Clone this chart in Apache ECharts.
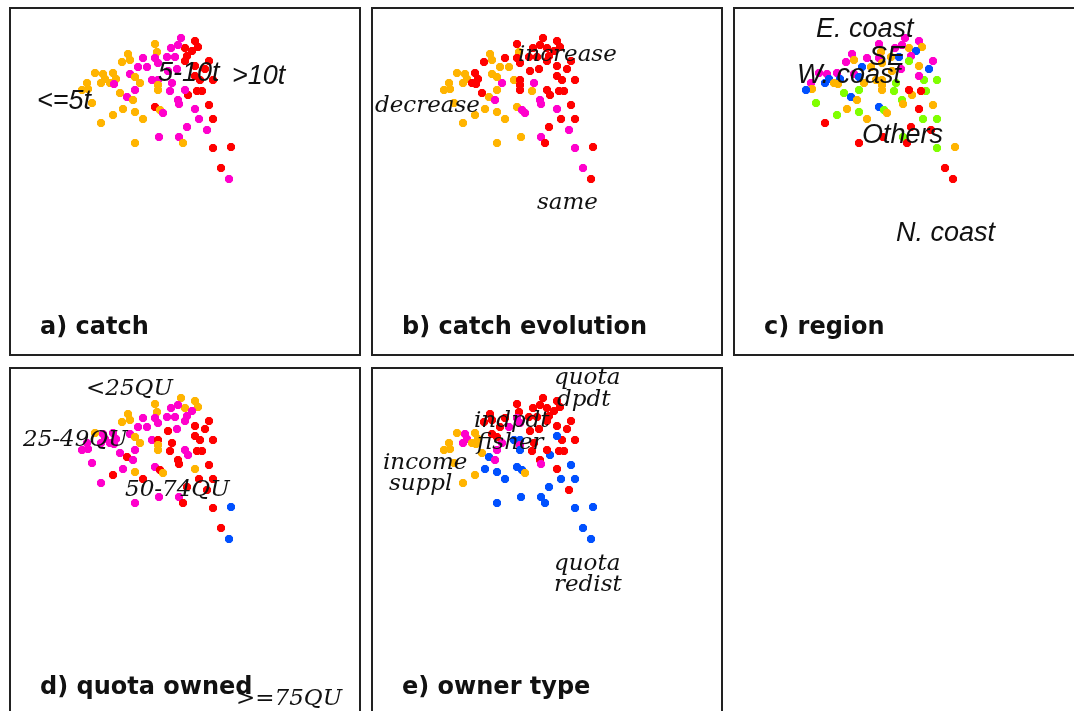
<!DOCTYPE html>
<html>
<head>
<meta charset="utf-8">
<title>Catch, region, quota and owner type maps</title>
<script src="https://cdn.jsdelivr.net/npm/echarts@6/dist/echarts.min.js"></script>
<style>
  html, body { margin: 0; padding: 0; background: #fff; }
  #chart { width: 1074px; height: 711px; }
</style>
</head>
<body>
<div id="chart"></div>
<script>
// map coordinates of the boats (same cloud in every panel), y grows downwards
const dim1 = [171, 185, 175, 188, 182, 177, 175, 168, 161, 165,
              157, 145, 147, 145, 118, 120, 112, 133, 128, 137,
              148, 158, 167, 185, 195, 199, 203, 190, 185, 192,
              187, 178, 175, 162, 160, 142, 148, 148, 148, 120,
              130, 125, 85, 93, 103, 106, 95, 91, 100, 104,
              77, 78, 72, 110, 125, 117, 123, 82, 113, 125,
              103, 91, 133, 145, 150, 153, 168, 169, 185, 189,
              199, 203, 177, 197, 149, 169, 173, 125, 203, 221,
              211, 219]
const dim2 = [30, 33, 40, 39, 43, 48, 53, 37, 40, 49,
              49, 36, 44, 50, 46, 52, 54, 50, 59, 59,
              55, 63, 61, 58, 61, 53, 72, 72, 68, 83,
              83, 87, 82, 75, 83, 72, 72, 77, 82, 66,
              75, 69, 65, 66, 65, 71, 71, 75, 75, 76,
              75, 81, 82, 85, 82, 89, 92, 95, 101, 104,
              107, 115, 111, 99, 102, 105, 92, 96, 101, 111,
              97, 111, 119, 122, 129, 129, 135, 135, 140, 139,
              160, 171]

// class of each boat per panel (O orange, M magenta, R red, B blue, G green)
const catchCls = ['M','R','R','R','R','R','R','M','M','M',
                  'M','O','O','M','O','O','O','M','M','M',
                  'M','M','M','R','R','R','R','R','R','R',
                  'R','R','M','M','M','M','M','O','O','M',
                  'O','O','O','O','O','O','O','O','O','M',
                  'O','O','O','O','M','M','O','O','O','O',
                  'O','O','O','R','O','M','M','M','M','M',
                  'R','R','M','M','M','M','O','O','R','R',
                  'R','M']
const evolCls = ['R','R','R','R','R','R','R','R','R','R',
                 'R','R','O','R','O','O','R','R','O','O',
                 'R','R','R','R','R','R','R','R','R','R',
                 'R','R','R','M','O','O','R','R','R','O',
                 'M','O','O','O','R','R','O','O','R','R',
                 'O','O','O','R','O','O','M','O','O','O',
                 'O','O','O','O','M','M','M','M','M','R',
                 'R','R','R','M','O','M','R','O','M','R',
                 'M','R']
const regionCls = ['M','M','O','O','B','M','G','M','M','B',
                   'O','M','O','M','M','O','M','M','B','O',
                   'O','O','M','O','B','M','G','G','M','G',
                   'R','O','R','G','G','O','O','O','O','M',
                   'O','B','M','M','M','B','B','B','O','O',
                   'M','O','B','G','G','B','O','G','O','G',
                   'G','R','O','B','G','O','G','O','R','G',
                   'O','G','R','R','R','G','R','R','G','O',
                   'R','R']
const quotaCls = ['O','O','O','O','M','M','M','M','M','M',
                  'M','O','O','M','O','O','O','M','M','M',
                  'M','R','M','R','R','R','R','R','R','R',
                  'R','M','M','R','R','M','R','O','O','M',
                  'O','O','O','M','M','M','M','M','M','M',
                  'M','M','M','M','M','R','M','M','M','O',
                  'R','M','R','M','R','O','R','R','O','R',
                  'R','R','R','R','M','M','R','M','R','B',
                  'R','B']
const ownerCls = ['R','R','R','R','R','R','R','R','R','R',
                  'R','R','R','M','R','R','R','R','R','M',
                  'M','R','R','R','R','R','R','R','B','R',
                  'R','B','R','R','R','B','B','M','B','R',
                  'M','R','O','M','O','O','M','M','O','O',
                  'O','O','O','O','M','B','M','O','B','B',
                  'O','O','B','B','B','O','R','M','R','B',
                  'B','B','B','R','B','B','B','B','B','B',
                  'B','B']

const classColors = { O: '#FFB400', M: '#FF00CC', R: '#FF0000', B: '#0050FF', G: '#80FF00' }

// panel boxes: left, top, visible width / height (the right and bottom ones run off the page)
const panels = [
    { left: 10, top: 8, w: 350, h: 347, cls: catchCls, title: 'a) catch' },
    { left: 372, top: 8, w: 350, h: 347, cls: evolCls, title: 'b) catch evolution' },
    { left: 734, top: 8, w: 340, h: 347, cls: regionCls, title: 'c) region' },
    { left: 10, top: 368, w: 350, h: 343, cls: quotaCls, title: 'd) quota owned' },
    { left: 372, top: 368, w: 350, h: 343, cls: ownerCls, title: 'e) owner type' }
]

const sansIt = 'italic 27px "Liberation Sans"'
const serifIt = 'italic 23px "DejaVu Serif"'
// category names written on the maps: [text, x, y, font]
const classLabels = [
    ['<=5t', 37, 101, sansIt], ['5-10t', 158, 73, sansIt], ['>10t', 232, 76, sansIt],
    ['increase', 518, 55, serifIt], ['decrease', 375, 106, serifIt], ['same', 537, 203, serifIt],
    ['E. coast', 816, 29, sansIt], ['SE', 869, 57, sansIt], ['W. coast', 797, 75, sansIt],
    ['Others', 862, 135, sansIt], ['N. coast', 896, 233, sansIt],
    ['<25QU', 86, 389, serifIt], ['25-49QU', 23, 440, serifIt], ['50-74QU', 125, 490, serifIt],
    ['>=75QU', 236, 699, serifIt],
    ['quota', 554, 378, serifIt], ['dpdt', 557, 400, serifIt],
    ['indpdt', 474, 421, serifIt], ['fisher', 477, 443, serifIt],
    ['income', 383, 463, serifIt], ['suppl', 389, 484, serifIt],
    ['quota', 554, 564, serifIt], ['redist', 554, 585, serifIt]
]

const chart = echarts.init(document.getElementById('chart'))

const grid = panels.map(p => ({ left: p.left, top: p.top, width: p.w, height: p.h, show: false }))
const xAxis = panels.map((p, i) => ({ gridIndex: i, type: 'value', min: 0, max: p.w, show: false }))
const yAxis = panels.map((p, i) => ({ gridIndex: i, type: 'value', min: 0, max: p.h, inverse: true, show: false }))
const series = panels.map((p, i) => ({
    type: 'scatter',
    xAxisIndex: i,
    yAxisIndex: i,
    symbol: 'path://M2,0L5,0L7,2L7,5L5,7L2,7L0,5L0,2Z',
    symbolSize: 8,
    silent: true,
    data: dim1.map((x, k) => ({
        value: [x, dim2[k]],
        itemStyle: { color: classColors[p.cls[k]], opacity: 1 }
    }))
}))

// frames are full 350 x 347 boxes, partly cut by the page edge
const frames = panels.map(p => ({
    type: 'rect', z: 50, silent: true,
    shape: { x: p.left, y: p.top, width: 350, height: 347 },
    style: { fill: null, stroke: '#222', lineWidth: 2 }
}))
const titles = panels.map(p => ({
    type: 'text', z: 100,
    x: p.left + 30, y: p.top + 320,
    style: { text: p.title, font: 'bold 24px "DejaVu Sans"', fill: '#111', verticalAlign: 'middle' }
}))
const labels = classLabels.map(l => ({
    type: 'text', z: 100,
    x: l[1], y: l[2],
    style: { text: l[0], font: l[3], fill: '#111', verticalAlign: 'middle' }
}))

chart.setOption({
    backgroundColor: '#fff',
    animation: false,
    grid: grid,
    xAxis: xAxis,
    yAxis: yAxis,
    series: series,
    graphic: frames.concat(titles, labels)
})
</script>
</body>
</html>
